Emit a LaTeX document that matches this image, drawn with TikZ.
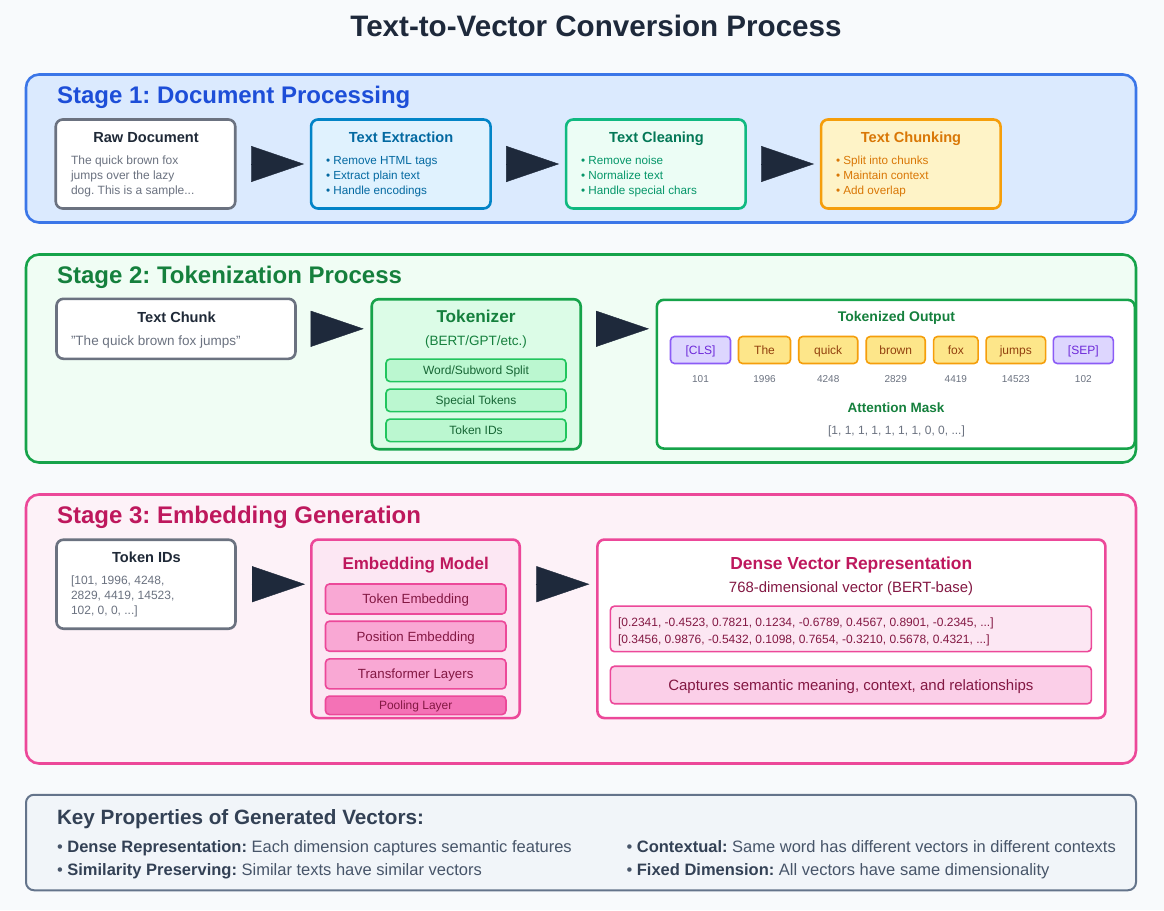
\documentclass[tikz,border=0pt]{standalone}
\usepackage{fontspec}
\setmainfont{Liberation Sans}
\usetikzlibrary{arrows.meta}

% palette
\definecolor{pagebg}{HTML}{F8FAFC}
\definecolor{ink}{HTML}{1E293B}
\definecolor{cardtitle}{HTML}{1F2937}
\definecolor{cardgray}{HTML}{6B7280}
\definecolor{blueD}{HTML}{3B76E8}
\definecolor{blueF}{HTML}{DBEAFE}
\definecolor{blueT}{HTML}{1D4ED8}
\definecolor{skyD}{HTML}{0284C7}
\definecolor{skyF}{HTML}{E0F2FE}
\definecolor{skyT}{HTML}{0369A1}
\definecolor{emD}{HTML}{10B981}
\definecolor{emF}{HTML}{ECFDF5}
\definecolor{emT}{HTML}{047857}
\definecolor{emB}{HTML}{059669}
\definecolor{amD}{HTML}{F59E0B}
\definecolor{amF}{HTML}{FEF3C7}
\definecolor{amT}{HTML}{D97706}
\definecolor{grD}{HTML}{16A34A}
\definecolor{grF}{HTML}{F0FDF4}
\definecolor{grT}{HTML}{15803D}
\definecolor{grCard}{HTML}{DCFCE7}
\definecolor{grSub}{HTML}{BBF7D0}
\definecolor{grSubD}{HTML}{22C55E}
\definecolor{grSubT}{HTML}{166534}
\definecolor{vioF}{HTML}{DDD6FE}
\definecolor{vioD}{HTML}{8B5CF6}
\definecolor{vioT}{HTML}{6D28D9}
\definecolor{yelF}{HTML}{FDE68A}
\definecolor{yelT}{HTML}{92400E}
\definecolor{pkD}{HTML}{EC4899}
\definecolor{pkF}{HTML}{FDF2F8}
\definecolor{pkT}{HTML}{BE185D}
\definecolor{pkCard}{HTML}{FCE7F3}
\definecolor{pkSub}{HTML}{F9A8D4}
\definecolor{pkPool}{HTML}{F472B6}
\definecolor{pkCap}{HTML}{FBCFE8}
\definecolor{pkText}{HTML}{831843}
\definecolor{slD}{HTML}{64748B}
\definecolor{slF}{HTML}{F1F5F9}
\definecolor{slT}{HTML}{334155}
\definecolor{slB}{HTML}{475569}

\newcommand\fsz[1]{\fontsize{#1}{#1}\selectfont}

\tikzset{
  every node/.style={inner sep=0pt, outer sep=0pt},
  stage/.style={draw, line width=2.6pt, rounded corners=13pt},
  card/.style={draw, line width=2.6pt, rounded corners=7pt},
  subbox/.style={draw, line width=1.6pt, rounded corners=4pt},
  tokbox/.style={draw, line width=1.6pt, rounded corners=4pt, minimum height=27pt,
    font=\fsz{12}, text height=8.6pt, text depth=0pt},
  stagetitle/.style={anchor=base west, font=\fsz{24}\bfseries},
  cardhead/.style={anchor=base, font=\fsz{14.6}\bfseries},
  txtline/.style={anchor=base west, font=\fsz{11.7}},
  flow/.style={draw=ink, line width=0.4pt, -{Triangle[length=53pt,width=36pt]}},
}

\begin{document}
\frenchspacing
\begin{tikzpicture}[x=1pt,y=-1pt]
\fill[pagebg] (0,0) rectangle (1164,910);
\useasboundingbox (0,0) rectangle (1164,910);

% heading
\node[anchor=base, font=\fsz{29.6}\bfseries, text=ink] (ttl) at (596,36.7) {Text-to-Vector Conversion Process};

% ---------------- Stage 1 ----------------
\node[stage, draw=blueD, fill=blueF, minimum width=1110pt, minimum height=148pt] (st1) at (581,148.5) {};
\node[stagetitle, text=blueT] (st1t) at (57,103.5) {Stage 1: Document Processing};

\node[card, draw=cardgray, fill=white, minimum width=179.5pt, minimum height=89pt] (raw) at (145.5,164) {};
\node[card, draw=skyD, fill=skyF, minimum width=179.5pt, minimum height=89pt] (ext) at (400.8,164) {};
\node[card, draw=emD, fill=emF, minimum width=179.5pt, minimum height=89pt] (cln) at (655.9,164) {};
\node[card, draw=amD, fill=amF, minimum width=179.5pt, minimum height=89pt] (chk) at (910.8,164) {};

\node[cardhead, text=cardtitle] (rawh) at (146,142.5) {Raw Document};
\node[cardhead, text=skyT] (exth) at (401,142.5) {Text Extraction};
\node[cardhead, text=emT] (clnh) at (656.5,142.5) {Text Cleaning};
\node[cardhead, text=amT] (chkh) at (911,142.5) {Text Chunking};

\node[txtline, font=\fsz{12}, text=cardgray] (rawl1) at (71,164) {The quick brown fox};
\node[txtline, font=\fsz{12}, text=cardgray] (rawl2) at (71,179) {jumps over the lazy};
\node[txtline, font=\fsz{12}, text=cardgray] (rawl3) at (71,194) {dog. This is a sample...};
\foreach \t [count=\i] in {Remove HTML tags, Extract plain text, Handle encodings}
  \node[txtline, text=skyT] (extl\i) at (326,149+15*\i) {• \t};
\foreach \t [count=\i] in {Remove noise, Normalize text, Handle special chars}
  \node[txtline, text=emB] (clnl\i) at (581,149+15*\i) {• \t};
\foreach \t [count=\i] in {Split into chunks, Maintain context, Add overlap}
  \node[txtline, text=amT] (chkl\i) at (836,149+15*\i) {• \t};

\draw[flow] ([xshift=16pt]raw.east) -- ([xshift=-7pt]ext.west);
\draw[flow] ([xshift=16pt]ext.east) -- ([xshift=-7pt]cln.west);
\draw[flow] ([xshift=16pt]cln.east) -- ([xshift=-7pt]chk.west);

% ---------------- Stage 2 ----------------
\node[stage, draw=grD, fill=grF, minimum width=1110pt, minimum height=208pt] (st2) at (581,358.5) {};
\node[stagetitle, text=grT] (st2t) at (57,283.5) {Stage 2: Tokenization Process};

\node[card, draw=cardgray, fill=white, minimum width=239pt, minimum height=60pt] (tchunk) at (176,328.8) {};
\node[cardhead, text=cardtitle] (tchunkh) at (176.5,322.5) {Text Chunk};
\node[txtline, font=\fsz{13.5}, text=cardgray] (tchunkl) at (71,345) {"The quick brown fox jumps"};

\node[card, draw=grD, fill=grCard, minimum width=209pt, minimum height=150pt] (tok) at (476.2,374.2) {};
\node[anchor=base, font=\fsz{17.2}\bfseries, text=grT] (tokh) at (476,322.7) {Tokenizer};
\node[anchor=base, font=\fsz{13.5}, text=grT] (toks) at (476,345) {(BERT/GPT/etc.)};
\foreach \t [count=\i] in {Word/Subword Split, Special Tokens, Token IDs}
  \node[subbox, draw=grSubD, fill=grSub, text=grSubT, minimum width=180pt, minimum height=22.5pt,
        font=\fsz{12}, text height=8.6pt, text depth=0pt] (toksub\i) at (476,340.3+30*\i) {\t};

\node[card, draw=grD, fill=white, minimum width=478pt, minimum height=148.7pt] (out) at (895.8,374.2) {};
\node[anchor=base, font=\fsz{14}\bfseries, text=grT] (outh) at (896.4,321.7) {Tokenized Output};

\node[tokbox, draw=vioD, fill=vioF, text=vioT, minimum width=60pt] (tk1) at (700.5,350) {[CLS]};
\node[tokbox, draw=amD, fill=yelF, text=yelT, minimum width=52pt] (tk2) at (764.5,350) {The};
\node[tokbox, draw=amD, fill=yelF, text=yelT, minimum width=59pt] (tk3) at (828.2,350) {quick};
\node[tokbox, draw=amD, fill=yelF, text=yelT, minimum width=59pt] (tk4) at (895.7,350) {brown};
\node[tokbox, draw=amD, fill=yelF, text=yelT, minimum width=44.5pt] (tk5) at (955.8,350) {fox};
\node[tokbox, draw=amD, fill=yelF, text=yelT, minimum width=59.5pt] (tk6) at (1015.8,350) {jumps};
\node[tokbox, draw=vioD, fill=vioF, text=vioT, minimum width=60pt] (tk7) at (1083.3,350) {[SEP]};

\foreach \n [count=\i] in {101, 1996, 4248, 2829, 4419, 14523, 102}
  \node[anchor=base, font=\fsz{10}, text=cardgray] (tid\i) at (tk\i.center |- 0,382.7) {\n};

\node[anchor=base, font=\fsz{13.5}\bfseries, text=grT] (maskh) at (896,412.3) {Attention Mask};
\node[anchor=base, font=\fsz{12}, text=cardgray] (maskv) at (896.5,434) {[1, 1, 1, 1, 1, 1, 1, 0, 0, ...]};

\draw[flow] ([xshift=15.4pt]tchunk.east) -- ([xshift=-8pt]tok.west |- tchunk.east);
\draw[flow] ([xshift=15.3pt]tok.east |- tchunk.east) -- ([xshift=-7.8pt]out.west |- tchunk.east);

% ---------------- Stage 3 ----------------
\node[stage, draw=pkD, fill=pkF, minimum width=1110pt, minimum height=269pt] (st3) at (581,629) {};
\node[stagetitle, text=pkT] (st3t) at (57,523.5) {Stage 3: Embedding Generation};

\node[card, draw=cardgray, fill=white, minimum width=179pt, minimum height=89pt] (tids) at (146,584.2) {};
\node[cardhead, text=cardtitle] (tidsh) at (146.5,562.3) {Token IDs};
\node[txtline, font=\fsz{12}, text=cardgray] (tidsl1) at (71,584.3) {[101, 1996, 4248,};
\node[txtline, font=\fsz{12}, text=cardgray] (tidsl2) at (71,599.7) {2829, 4419, 14523,};
\node[txtline, font=\fsz{12}, text=cardgray] (tidsl3) at (71,614.7) {102, 0, 0, ...]};

\node[card, draw=pkD, fill=pkCard, minimum width=208.4pt, minimum height=178.5pt] (emb) at (415.5,628.8) {};
\node[anchor=base, font=\fsz{17}\bfseries, text=pkT] (embh) at (415.7,569.3) {Embedding Model};
\node[subbox, draw=pkD, fill=pkSub, text=pkText, minimum width=180.5pt, minimum height=30pt,
      font=\fsz{13.3}, text height=9.6pt, text depth=0pt] (emb1) at (415.7,599) {Token Embedding};
\node[subbox, draw=pkD, fill=pkSub, text=pkText, minimum width=180.5pt, minimum height=30pt,
      font=\fsz{13.3}, text height=9.6pt, text depth=0pt] (emb2) at (415.7,636.2) {Position Embedding};
\node[subbox, draw=pkD, fill=pkSub, text=pkText, minimum width=180.5pt, minimum height=30pt,
      font=\fsz{13.3}, text height=9.6pt, text depth=0pt] (emb3) at (415.7,673.9) {Transformer Layers};
\node[subbox, draw=pkD, fill=pkPool, text=pkText, minimum width=180.5pt, minimum height=18.5pt,
      font=\fsz{12}, text height=8.6pt, text depth=0pt] (emb4) at (415.7,705.3) {Pooling Layer};

\node[card, draw=pkD, fill=white, minimum width=508pt, minimum height=178.5pt] (dense) at (851.4,628.8) {};
\node[anchor=base, font=\fsz{17.4}\bfseries, text=pkT] (denseh) at (851.3,569.3) {Dense Vector Representation};
\node[anchor=base, font=\fsz{14.9}, text=pkText] (denses) at (851,592.7) {768-dimensional vector (BERT-base)};
\node[subbox, draw=pkD, fill=pkCard, minimum width=481pt, minimum height=45.5pt] (vec) at (850.9,628.9) {};
\node[txtline, font=\fsz{12}, text=pkText] (vec1) at (618,626.7) {[0.2341, -0.4523, 0.7821, 0.1234, -0.6789, 0.4567, 0.8901, -0.2345, ...]};
\node[txtline, font=\fsz{12}, text=pkText] (vec2) at (618,643.3) {[0.3456, 0.9876, -0.5432, 0.1098, 0.7654, -0.3210, 0.5678, 0.4321, ...]};
\node[subbox, draw=pkD, fill=pkCap, text=pkText, minimum width=481pt, minimum height=37.5pt,
      font=\fsz{15}, text height=10.8pt, text depth=0pt] (cap) at (850.9,685) {Captures semantic meaning, context, and relationships};

\draw[flow] ([xshift=16pt]tids.east) -- ([xshift=-6.3pt]emb.west |- tids.east);
\draw[flow] ([xshift=15.8pt]emb.east |- tids.east) -- ([xshift=-8pt]dense.west |- tids.east);

% ---------------- Key properties ----------------
\node[draw=slD, fill=slF, line width=2pt, rounded corners=8pt, minimum width=1110pt, minimum height=95.5pt] (keyp) at (581,842.5) {};
\node[anchor=base west, font=\fsz{20.7}\bfseries, text=slT] (keyh) at (57,824) {Key Properties of Generated Vectors:};
\node[anchor=base west, font=\fsz{16.5}, text=slB] (key1) at (57,852) {• \textcolor{slT}{\bfseries Dense Representation:} Each dimension captures semantic features};
\node[anchor=base west, font=\fsz{16.5}, text=slB] (key2) at (57,875) {• \textcolor{slT}{\bfseries Similarity Preserving:} Similar texts have similar vectors};
\node[anchor=base west, font=\fsz{16.5}, text=slB] (key3) at (626.5,852) {• \textcolor{slT}{\bfseries Contextual:} Same word has different vectors in different contexts};
\node[anchor=base west, font=\fsz{16.5}, text=slB] (key4) at (626.5,875) {• \textcolor{slT}{\bfseries Fixed Dimension:} All vectors have same dimensionality};
\end{tikzpicture}
\end{document}
